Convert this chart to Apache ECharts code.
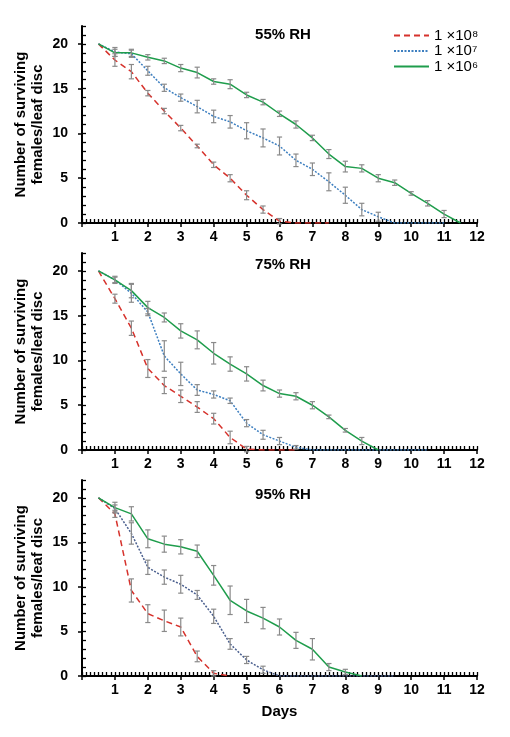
<!DOCTYPE html>
<html><head><meta charset="utf-8">
<script src="https://cdn.jsdelivr.net/npm/echarts@6/dist/echarts.min.js"></script>
<style>html,body{margin:0;padding:0;background:#fff}#c{width:510px;height:737px}</style>
</head><body><div id="c"></div>
<script>
// ---- data ----
const days = [0.5,1,1.5,2,2.5,3,3.5,4,4.5,5,5.5,6,6.5,7,7.5,8,8.5,9,9.5,10,10.5,11,11.5,12];
const panelTitles = ['55% RH','75% RH','95% RH'];
const seriesNames = ['1 ×10⁸','1 ×10⁷','1 ×10⁶'];
const xTickLabels = [1,2,3,4,5,6,7,8,9,10,11,12];
const yTickLabels = [0,5,10,15,20];

// 55% RH
const rh55_e8 = [20,18.2,16.9,14.5,12.5,10.6,8.6,6.5,5.0,3.1,1.5,0.2,0,0,0];
const rh55_e8_err = [0,0.7,0.8,0.3,0.3,0.3,0.2,0.3,0.4,0.5,0.4,0.3,0,0,0];
const rh55_e7 = [20,19.1,18.9,17.0,15.1,14.0,13.0,11.9,11.3,10.3,9.5,8.6,7.0,6.0,4.6,3.1,1.5,0.7,0,0,0,0];
const rh55_e7_err = [0,0.5,0.4,0.5,0.4,0.4,0.7,0.7,0.7,0.9,1.0,1.0,0.7,0.7,1.0,0.9,0.7,0.5,0,0,0,0];
const rh55_e6 = [20,19.0,19.0,18.5,18.1,17.3,16.8,15.8,15.5,14.3,13.5,12.2,11.0,9.5,7.7,6.3,6.1,5.0,4.5,3.3,2.2,1.0,0];
const rh55_e6_err = [0,0.4,0.4,0.3,0.3,0.4,0.6,0.3,0.5,0.3,0.3,0.3,0.4,0.3,0.5,0.6,0.4,0.4,0.3,0.2,0.3,0.4,0];

// 75% RH
const rh75_e8 = [20,16.9,13.6,9.1,7.2,6.0,4.8,3.5,1.4,0.1,0,0,0];
const rh75_e8_err = [0,0.5,0.8,1.0,0.9,0.7,0.6,0.6,0.7,0.3,0,0,0];
const rh75_e7 = [20,19.0,17.5,15.4,10.5,8.5,6.7,6.2,5.5,3.0,1.7,1.0,0.3,0,0,0,0,0,0,0,0];
const rh75_e7_err = [0,0.4,1.0,0.4,1.7,1.3,0.6,0.4,0.3,0.4,0.5,0.4,0.2,0,0,0,0,0,0,0,0];
const rh75_e6 = [20,19.0,17.8,15.9,14.8,13.3,12.3,10.8,9.6,8.5,7.2,6.3,6.0,5.0,3.7,2.2,1.0,0];
const rh75_e6_err = [0,0.3,0.8,0.7,0.5,0.8,1.0,1.2,0.8,0.8,0.6,0.4,0.4,0.4,0.2,0.2,0.4,0];

// 95% RH
const rh95_e8 = [20,18.2,9.6,7.0,6.2,5.5,2.2,0.3,0];
const rh95_e8_err = [0,0.4,1.3,1.0,1.2,1.0,0.6,0.3,0];
const rh95_e7 = [20,18.8,16.0,12.2,11.1,10.3,9.1,6.7,3.6,1.8,0.7,0,0,0,0,0,0,0,0];
const rh95_e7_err = [0,0.4,1.2,0.8,0.8,1.0,0.5,0.8,0.6,0.4,0.4,0,0,0,0,0,0,0,0];
const rh95_e6 = [20,18.9,18.2,15.4,14.8,14.5,14.0,11.3,8.5,7.3,6.5,5.5,4.0,3.0,1.0,0.45,0];
const rh95_e6_err = [0,0.6,0.8,1.0,0.9,0.8,0.7,1.1,1.6,1.3,1.2,0.9,0.9,1.2,0.4,0.3,0];

const panels = [
  {vals:[rh55_e8,rh55_e7,rh55_e6], errs:[rh55_e8_err,rh55_e7_err,rh55_e6_err]},
  {vals:[rh75_e8,rh75_e7,rh75_e6], errs:[rh75_e8_err,rh75_e7_err,rh75_e6_err]},
  {vals:[rh95_e8,rh95_e7,rh95_e6], errs:[rh95_e8_err,rh95_e7_err,rh95_e6_err]}
];

// ---- styling ----
const FONT = 'Liberation Sans, Arial, sans-serif';
const gridTops = [26, 253, 480];
const gridHeights = [197, 197, 196];
const titleTops = [22, 252, 482];
const lineStyles = [
  {color:'#d6322c', width:1.5, type:[6,4]},
  {color:'#3d7fc0', width:1.5, type:[2,1.5]},
  {color:'#1f9d4c', width:1.5, type:'solid'}
];
const blueP3 = '#4a5f8e';

const grids = [], xAxes = [], yAxes = [], series = [], titles = [];

function renderErr(params, api) {
  const x = api.value(0), lo = api.value(1), hi = api.value(2);
  const p1 = api.coord([x, lo]), p2 = api.coord([x, hi]);
  const w = 2.6;
  const st = {stroke:'#8a8a8a', lineWidth:1.2};
  return {type:'group', children:[
    {type:'line', shape:{x1:p1[0],y1:p1[1],x2:p2[0],y2:p2[1]}, style:st},
    {type:'line', shape:{x1:p1[0]-w,y1:p1[1],x2:p1[0]+w,y2:p1[1]}, style:st},
    {type:'line', shape:{x1:p2[0]-w,y1:p2[1],x2:p2[0]+w,y2:p2[1]}, style:st}
  ]};
}

panels.forEach((pn, p) => {
  const g = {left:82, top:gridTops[p], width:395, height:gridHeights[p]};
  grids.push(Object.assign({}, g), Object.assign({}, g));
  const gi = 2*p;
  xAxes.push({
    type:'value', gridIndex:gi, min:0, max:12, interval:0.125,
    axisLine:{show:true, onZero:false, lineStyle:{color:'#000', width:2}},
    axisTick:{show:true, inside:true, length:4, lineStyle:{color:'#000', width:1.3}},
    axisLabel:{show:true, margin:7, color:'#000', fontSize:14, fontWeight:'bold', fontFamily:FONT,
      formatter: v => xTickLabels.includes(v) ? String(v) : ''},
    splitLine:{show:false},
    name: p === 2 ? 'Days' : '', nameLocation:'middle', nameGap:28, nameMoveOverlap:false,
    nameTextStyle:{color:'#000', fontSize:15, fontWeight:'bold', fontFamily:FONT}
  });
  xAxes.push({
    type:'value', gridIndex:gi+1, min:0, max:12, interval:1,
    axisLine:{show:false}, axisLabel:{show:false}, splitLine:{show:false},
    axisTick:{show:true, inside:false, length:4, lineStyle:{color:'#000', width:1.5}}
  });
  yAxes.push({
    type:'value', gridIndex:gi, min:0, max:22, interval:1,
    axisLine:{show:true, onZero:false, lineStyle:{color:'#000', width:2}},
    axisTick:{show:true, inside:true, length:4, lineStyle:{color:'#000', width:1.3}},
    axisLabel:{show:true, margin:14, color:'#000', fontSize:14, fontWeight:'bold', fontFamily:FONT,
      formatter: v => yTickLabels.includes(v) ? String(v) : ''},
    splitLine:{show:false},
    name:'Number of surviving\nfemales/leaf disc', nameLocation:'middle', nameGap:36, nameMoveOverlap:false,
    nameTextStyle:{color:'#000', fontSize:15, fontWeight:'bold', fontFamily:FONT, lineHeight:17}
  });
  yAxes.push({
    type:'value', gridIndex:gi+1, min:0, max:22, interval:5,
    axisLine:{show:false}, axisLabel:{show:false}, splitLine:{show:false},
    axisTick:{show:true, inside:false, length:4, customValues:yTickLabels, lineStyle:{color:'#000', width:1.5}}
  });
  titles.push({text:panelTitles[p], left:278, top:titleTops[p], textAlign:'center',
    textStyle:{color:'#000', fontSize:15, fontWeight:'bold', fontFamily:FONT}});

  pn.vals.forEach((vals, s) => {
    const ls = Object.assign({}, lineStyles[s]);
    if (p === 2 && s === 1) ls.color = blueP3;
    series.push({
      type:'line', name:seriesNames[s], xAxisIndex:gi, yAxisIndex:gi,
      data: vals.map((v,i) => [days[i], v]),
      symbol:'none', lineStyle:ls, itemStyle:{color:ls.color}, z:2+s, animation:false
    });
  });
  pn.vals.forEach((vals, s) => {
    const errs = pn.errs[s];
    const d = [];
    vals.forEach((v,i) => { if (errs[i] > 0) d.push([days[i], v - errs[i], v + errs[i]]); });
    series.push({
      type:'custom', name:seriesNames[s] + ' SE', xAxisIndex:gi, yAxisIndex:gi,
      data:d, encode:{x:0, y:[1,2]}, renderItem:renderErr, z:10, silent:true, animation:false
    });
  });
});

const chart = echarts.init(document.getElementById('c'), null, {renderer:'canvas'});
chart.setOption({
  animation:false,
  backgroundColor:'#fff',
  title:titles,
  legend:{
    data:seriesNames, orient:'vertical', left:388, top:23,
    itemWidth:35, itemHeight:10, itemGap:0.5,
    itemStyle:{opacity:0},
    textStyle:{color:'#000', fontSize:15, fontFamily:FONT, lineHeight:14}
  },
  grid:grids, xAxis:xAxes, yAxis:yAxes, series:series
});
</script></body></html>
